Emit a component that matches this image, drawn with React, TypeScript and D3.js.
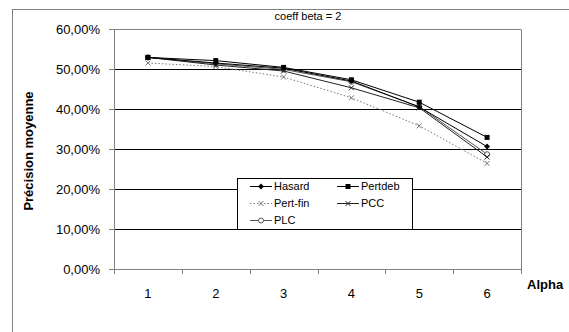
import React from "react";
import * as d3 from "d3";

const categories = ["1", "2", "3", "4", "5", "6"];
const hasard = [0.529, 0.515, 0.502, 0.47, 0.405, 0.306];
const pertdeb = [0.529, 0.521, 0.504, 0.473, 0.417, 0.329];
const pertfin = [0.515, 0.506, 0.48, 0.428, 0.358, 0.264];
const pcc = [0.529, 0.51, 0.495, 0.453, 0.403, 0.28];
const plc = [0.529, 0.513, 0.499, 0.468, 0.406, 0.287];
const yTicks = [0, 0.1, 0.2, 0.3, 0.4, 0.5, 0.6];
const title = "coeff beta = 2";
const yTitle = "Précision moyenne";
const xTitle = "Alpha";

type Series = { name: string; values: number[]; color: string; dash?: string; marker: string; width: number };
const series: Series[] = [
  { name: "PLC", values: plc, color: "#555", marker: "circle", width: 1 },
  { name: "Pert-fin", values: pertfin, color: "#777", dash: "1.5,2", marker: "x", width: 1 },
  { name: "PCC", values: pcc, color: "#222", marker: "cross", width: 1 },
  { name: "Hasard", values: hasard, color: "#000", marker: "diamond", width: 1 },
  { name: "Pertdeb", values: pertdeb, color: "#000", marker: "square", width: 1 },
];
const legendOrder = ["Hasard", "Pertdeb", "Pert-fin", "PCC", "PLC"];

function Marker({ type, x, y, color }: { type: string; x: number; y: number; color: string }) {
  if (type === "square") return <rect x={x - 2.5} y={y - 2.5} width={5} height={5} fill="#000" />;
  if (type === "diamond")
    return <path d={`M${x},${y - 3}L${x + 3},${y}L${x},${y + 3}L${x - 3},${y}Z`} fill="#000" />;
  if (type === "circle") return <circle cx={x} cy={y} r={2.5} fill="#fff" stroke={color} strokeWidth={1} />;
  if (type === "x" || type === "cross")
    return (
      <path
        d={`M${x - 2.5},${y - 2.5}L${x + 2.5},${y + 2.5}M${x - 2.5},${y + 2.5}L${x + 2.5},${y - 2.5}`}
        stroke={color}
        strokeWidth={1}
      />
    );
  return null;
}

export default function App() {
  const W = 569, H = 332;
  const left = 114, right = 521, top = 29, bottom = 269;
  const x = d3.scaleBand<string>().domain(categories).range([left, right]);
  const y = d3.scaleLinear().domain([0, 0.6]).range([bottom, top]);
  const cx = (c: string) => (x(c) as number) + x.bandwidth() / 2;
  const line = (vals: number[]) =>
    d3.line<number>().x((_, i) => cx(categories[i])).y((v) => y(v))(vals) as string;
  const fmt = (v: number) => (v * 100).toFixed(2).replace(".", ",") + "%";
  const font = "Liberation Sans, Arial, sans-serif";

  const legX = 237, legY = 178;
  const legendPos = (i: number) => ({ lx: legX + 13 + (i % 2) * 87, ly: legY + 8 + Math.floor(i / 2) * 17 });

  return (
    <svg width={W} height={H} style={{ position: "absolute", left: 0, top: 0 }} fontFamily={font}>
      <rect x={0} y={0} width={W} height={H} fill="#fff" />
      <rect x={12.5} y={9.5} width={W} height={H} fill="none" stroke="#808080" strokeWidth={1} />
      <text x={308} y={20} fontSize={11} textAnchor="middle" fill="#000">{title}</text>
      {yTicks.slice(1).map((t) => (
        <line key={t} x1={left} x2={right} y1={Math.round(y(t)) + 0.5} y2={Math.round(y(t)) + 0.5} stroke="#000" strokeWidth={1} />
      ))}
      <line x1={right + 0.5} x2={right + 0.5} y1={top + 0.5} y2={bottom + 0.5} stroke="#808080" />
      <line x1={left} x2={right} y1={top + 0.5} y2={top + 0.5} stroke="#808080" />
      <line x1={left + 0.5} x2={left + 0.5} y1={top} y2={bottom + 1} stroke="#808080" />
      <line x1={left} x2={right + 1} y1={bottom + 0.5} y2={bottom + 0.5} stroke="#808080" />
      {yTicks.map((t) => (
        <g key={t}>
          <line x1={left - 5} x2={left} y1={Math.round(y(t)) + 0.5} y2={Math.round(y(t)) + 0.5} stroke="#808080" />
          <text x={100} y={y(t)} dy="0.35em" fontSize={13} textAnchor="end" fill="#000">{fmt(t)}</text>
        </g>
      ))}
      {categories.map((c, i) => (
        <g key={c}>
          <line x1={Math.round(x(c) as number) + 0.5} x2={Math.round(x(c) as number) + 0.5} y1={bottom} y2={bottom + 5} stroke="#808080" />
          {i === categories.length - 1 && (
            <line x1={right + 0.5} x2={right + 0.5} y1={bottom} y2={bottom + 5} stroke="#808080" />
          )}
          <text x={cx(c)} y={293} dy="0.35em" fontSize={13} textAnchor="middle" fill="#000">{c}</text>
        </g>
      ))}
      <text x={527} y={284} dy="0.35em" fontSize={13} fontWeight="bold" fill="#000">{xTitle}</text>
      <text transform={`translate(33,151) rotate(-90)`} fontSize={13} fontWeight="bold" textAnchor="middle" fill="#000">{yTitle}</text>
      {series.map((s) => (
        <g key={s.name}>
          <path d={line(s.values)} fill="none" stroke={s.color} strokeWidth={s.width} strokeDasharray={s.dash} />
          {s.values.map((v, i) => (
            <Marker key={i} type={s.marker} x={cx(categories[i])} y={y(v)} color={s.color} />
          ))}
        </g>
      ))}
      <rect x={legX + 0.5} y={legY + 0.5} width={175} height={51} fill="#fff" stroke="#000" />
      {legendOrder.map((n, i) => {
        const s = series.find((q) => q.name === n)!;
        const { lx, ly } = legendPos(i);
        return (
          <g key={n}>
            <line x1={lx} x2={lx + 22} y1={ly + 0.5} y2={ly + 0.5} stroke={s.color} strokeDasharray={s.dash} />
            <Marker type={s.marker} x={lx + 11} y={ly + 0.5} color={s.color} />
            <text x={lx + 24} y={ly} dy="0.35em" fontSize={11} fill="#000">{n}</text>
          </g>
        );
      })}
    </svg>
  );
}
